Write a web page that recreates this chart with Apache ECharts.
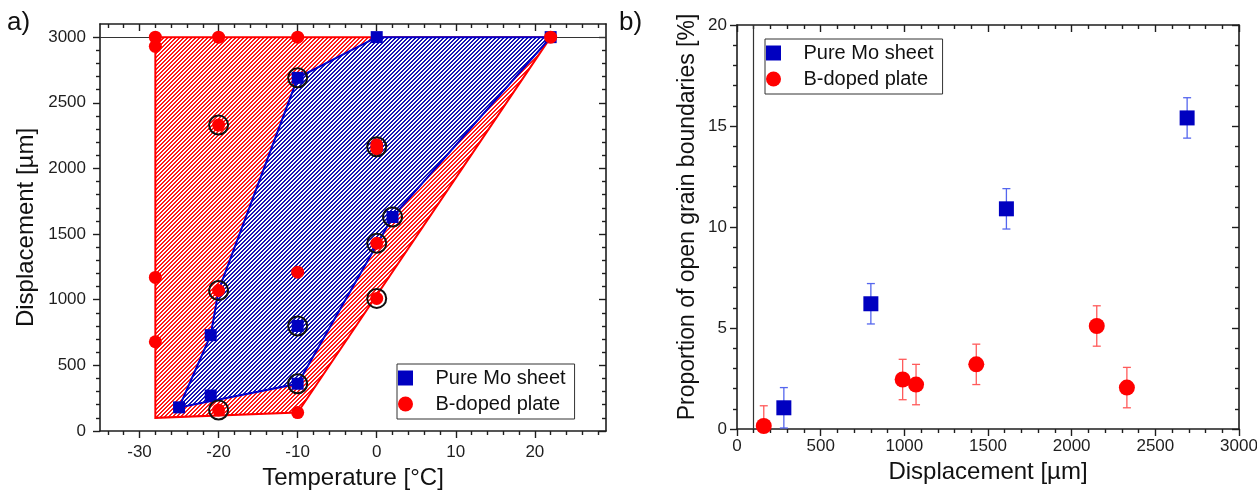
<!DOCTYPE html>
<html><head><meta charset="utf-8">
<script src="https://cdn.jsdelivr.net/npm/echarts@6/dist/echarts.min.js"></script>
<style>html,body{margin:0;padding:0;background:#fff}#c{width:1257px;height:493px}</style>
</head><body><div id="c"></div>
<script>
// ---------- panel a) ----------
const aXTicks = [-30, -20, -10, 0, 10, 20];
const aYTicks = [0, 500, 1000, 1500, 2000, 2500, 3000];
const aPureMoT = [-25, -21, -21, -10, -10, -10, 0, 2, 22];
const aPureMoD = [180, 270, 730, 360, 800, 2690, 3000, 1630, 3000];
const aBDopedT = [-28, -28, -20, -10, -20, 0, 0, 0, 0, -28, -28, -20, -10, -20, -10, 22];
const aBDopedD = [3000, 2930, 3000, 3000, 2330, 2150, 2180, 1430, 1010, 1170, 680, 1070, 1210, 160, 140, 3000];
const aMarkedT = [-10, -20, 0, 2, 0, -20, 0, -10, -10, -20];
const aMarkedD = [2690, 2330, 2165, 1630, 1430, 1070, 1010, 800, 360, 160];
const aBDopedRegionT = [-28, -28, 22, -10];
const aBDopedRegionD = [100, 3000, 3000, 140];
const aPureMoRegionT = [-25, -21, -20, -10, 0, 22, 2, -10];
const aPureMoRegionD = [180, 730, 1070, 2690, 3000, 3000, 1630, 360];
const aRefLineD = 3000;
// ---------- panel b) ----------
const bXTicks = [0, 500, 1000, 1500, 2000, 2500, 3000];
const bYTicks = [0, 5, 10, 15, 20];
const bPureMoD = [280, 800, 1610, 2690];
const bPureMoP = [1.05, 6.2, 10.9, 15.4];
const bPureMoErr = [1.0, 1.0, 1.0, 1.0];
const bBDopedD = [160, 990, 1070, 1430, 2150, 2330];
const bBDopedP = [0.15, 2.45, 2.2, 3.2, 5.1, 2.05];
const bBDopedErr = [1.0, 1.0, 1.0, 1.0, 1.0, 1.0];
const bRefLineD = 100;

const FONT = 'Liberation Sans, Arial, sans-serif';
const INK = '#1e1e1e';
const BLUE = '#0000c0';
const RED = '#ff0000';

function minors(lo, hi, step, majorStep) {
  const out = [];
  for (let v = lo; v <= hi + 1e-9; v += step) {
    const r = Math.round(v * 1000) / 1000;
    if (Math.abs(r / majorStep - Math.round(r / majorStep)) > 1e-6) out.push(r);
  }
  return out;
}
const aXMinor = minors(-34, 28, 2, 10);
const aYMinor = minors(100, 3000, 100, 500);
const bXMinor = minors(100, 2900, 100, 500);
const bYMinor = minors(1, 19, 1, 5);

function axes(dim, grid, min, max, majors, minorVals, o) {
  const side = dim === 'x' ? ['bottom', 'top'] : ['left', 'right'];
  const base = {type: 'value', gridIndex: grid, min: min, max: max, splitLine: {show: false}};
  const line = {show: true, onZero: false, lineStyle: {color: INK, width: 1.6}};
  const noLine = {show: false, onZero: false};
  const tickStyle = {color: INK, width: 1.4};
  return [
    Object.assign({}, base, {
      position: side[0], axisLine: line,
      axisTick: {show: true, inside: false, length: 7, customValues: majors, lineStyle: tickStyle},
      axisLabel: {show: true, customValues: majors, margin: o.margin, fontSize: 17, color: INK, fontFamily: FONT,
        formatter: function (v) { return String(v); }},
      name: o.name, nameLocation: 'middle', nameGap: o.nameGap,
      nameTextStyle: {fontSize: o.nameSize, color: '#111', fontFamily: FONT, padding: o.namePad || 0}
    }),
    Object.assign({}, base, {
      position: side[0], axisLine: noLine,
      axisTick: {show: true, inside: false, length: 4, customValues: minorVals, lineStyle: tickStyle},
      axisLabel: {show: false}
    }),
    Object.assign({}, base, {
      position: side[1], axisLine: line,
      axisTick: {show: true, inside: true, length: 7, customValues: majors, lineStyle: tickStyle},
      axisLabel: {show: false}
    }),
    Object.assign({}, base, {
      position: side[1], axisLine: noLine,
      axisTick: {show: true, inside: true, length: 4, customValues: minorVals, lineStyle: tickStyle},
      axisLabel: {show: false}
    })
  ];
}

function hatch(color) {
  const n = 4, c = document.createElement('canvas');
  c.width = n; c.height = n;
  const ctx = c.getContext('2d');
  ctx.fillStyle = '#fff'; ctx.fillRect(0, 0, n, n);
  ctx.fillStyle = color;
  for (let y = 0; y < n; y++) for (let x = 0; x < n; x++) if (((x + y) % n) < 2) ctx.fillRect(x, y, 1, 1);
  return {image: c, repeat: 'repeat'};
}

function region(xs, ys, fill, stroke, z) {
  return {
    type: 'custom', xAxisIndex: 0, yAxisIndex: 0, z: z, zlevel: 0, silent: true,
    data: xs.map((x, i) => [x, ys[i]]),
    renderItem: function (params, api) {
      if (params.dataIndex !== 0) return null;
      const pts = xs.map((x, i) => api.coord([x, ys[i]]));
      return {type: 'polygon', shape: {points: pts}, style: {fill: fill, stroke: stroke, lineWidth: 2, lineJoin: 'miter'}};
    }
  };
}

function errorBars(xs, ys, es, color, z) {
  return {
    type: 'custom', xAxisIndex: 4, yAxisIndex: 4, z: z, zlevel: 1, silent: true, clip: true,
    data: xs.map((x, i) => [x, ys[i] - es[i], ys[i] + es[i]]),
    encode: {x: 0, y: [1, 2]},
    renderItem: function (params, api) {
      const lo = api.coord([api.value(0), api.value(1)]);
      const hi = api.coord([api.value(0), api.value(2)]);
      const hw = 4, st = {stroke: color, lineWidth: 1.3};
      return {type: 'group', children: [
        {type: 'line', shape: {x1: lo[0], y1: lo[1], x2: hi[0], y2: hi[1]}, style: st},
        {type: 'line', shape: {x1: hi[0] - hw, y1: hi[1], x2: hi[0] + hw, y2: hi[1]}, style: st},
        {type: 'line', shape: {x1: lo[0] - hw, y1: lo[1], x2: lo[0] + hw, y2: lo[1]}, style: st}
      ]};
    }
  };
}

const SQUARE = 'path://M0,0L10,0L10,10L0,10Z';
function legend(left, top) {
  return {
    left: left, top: top, orient: 'vertical', selectedMode: false, zlevel: 2,
    backgroundColor: '#fff', borderColor: '#333', borderWidth: 1, borderRadius: 0,
    padding: [4, 9, 5, 1], itemGap: 6, itemWidth: 50, itemHeight: 15, symbolKeepAspect: true,
    textStyle: {fontSize: 20, lineHeight: 20, color: '#111', fontFamily: FONT},
    data: [{name: 'Pure Mo sheet', icon: SQUARE}, {name: 'B-doped plate', icon: 'circle'}]
  };
}

const chart = echarts.init(document.getElementById('c'), null, {renderer: 'canvas'});
chart.setOption({
  animation: false,
  backgroundColor: '#fff',
  textStyle: {fontFamily: FONT},
  grid: [
    {left: 100, top: 24, width: 506, height: 407, containLabel: false, outerBoundsMode: 'none'},
    {left: 737, top: 25, width: 502, height: 404, containLabel: false, outerBoundsMode: 'none'}
  ],
  xAxis: [].concat(
    axes('x', 0, -35, 29, aXTicks, aXMinor, {margin: 13, name: 'Temperature [°C]', nameGap: 30, nameSize: 24}),
    axes('x', 1, 0, 3000, bXTicks, bXMinor, {margin: 9, name: 'Displacement [µm]', nameGap: 30, nameSize: 24})
  ),
  yAxis: [].concat(
    axes('y', 0, 0, 3100, aYTicks, aYMinor, {margin: 14, name: 'Displacement [µm]', nameGap: 62, nameSize: 24}),
    axes('y', 1, 0, 20, bYTicks, bYMinor, {margin: 10, name: 'Proportion of open grain boundaries [%]', nameGap: 38, nameSize: 23, namePad: [0, 0, 0, 20]})
  ),
  legend: [legend(397, 364), legend(765, 39)],
  graphic: [
    {type: 'text', left: 7, top: 10, style: {text: 'a)', font: '26px ' + FONT, fill: '#111'}},
    {type: 'text', left: 619, top: 10, style: {text: 'b)', font: '26px ' + FONT, fill: '#111'}}
  ],
  series: [
    {
      type: 'scatter', xAxisIndex: 0, yAxisIndex: 0, z: 1, zlevel: 0, silent: true, data: [],
      markLine: {silent: true, z: 1, zlevel: 0, symbol: 'none', label: {show: false},
        lineStyle: {color: '#333', width: 1, type: 'solid'}, data: [{yAxis: aRefLineD}]}
    },
    region(aBDopedRegionT, aBDopedRegionD, hatch('#ff1818'), RED, 2),
    region(aPureMoRegionT, aPureMoRegionD, hatch('#1414b4'), '#0000cc', 3),
    {
      type: 'scatter', name: 'Pure Mo sheet', xAxisIndex: 0, yAxisIndex: 0, z: 4, zlevel: 1,
      symbol: 'rect', symbolSize: 12, itemStyle: {color: BLUE, opacity: 1},
      data: aPureMoT.map((t, i) => [t, aPureMoD[i]])
    },
    {
      type: 'scatter', name: 'B-doped plate', xAxisIndex: 0, yAxisIndex: 0, z: 5, zlevel: 1,
      symbol: 'circle', symbolSize: 13, itemStyle: {color: RED, opacity: 1},
      data: aBDopedT.map((t, i) => [t, aBDopedD[i]])
    },
    {
      type: 'scatter', xAxisIndex: 0, yAxisIndex: 0, z: 6, zlevel: 1, silent: true,
      symbol: 'circle', symbolSize: 19,
      itemStyle: {color: 'rgba(0,0,0,0)', borderColor: '#111', borderWidth: 2, opacity: 1},
      data: aMarkedT.map((t, i) => [t, aMarkedD[i]])
    },
    {
      type: 'scatter', xAxisIndex: 4, yAxisIndex: 4, z: 1, zlevel: 0, silent: true, data: [],
      markLine: {silent: true, z: 1, zlevel: 0, symbol: 'none', label: {show: false},
        lineStyle: {color: '#333', width: 1.2, type: 'solid'}, data: [{xAxis: bRefLineD}]}
    },
    errorBars(bPureMoD, bPureMoP, bPureMoErr, '#5566ee', 3),
    errorBars(bBDopedD, bBDopedP, bBDopedErr, '#ff5a5a', 3),
    {
      type: 'scatter', name: 'Pure Mo sheet', xAxisIndex: 4, yAxisIndex: 4, z: 4, zlevel: 1,
      symbol: 'rect', symbolSize: 15, itemStyle: {color: BLUE, opacity: 1},
      data: bPureMoD.map((d, i) => [d, bPureMoP[i]])
    },
    {
      type: 'scatter', name: 'B-doped plate', xAxisIndex: 4, yAxisIndex: 4, z: 5, zlevel: 1,
      symbol: 'circle', symbolSize: 16, itemStyle: {color: RED, opacity: 1},
      data: bBDopedD.map((d, i) => [d, bBDopedP[i]])
    }
  ]
});
</script></body></html>
